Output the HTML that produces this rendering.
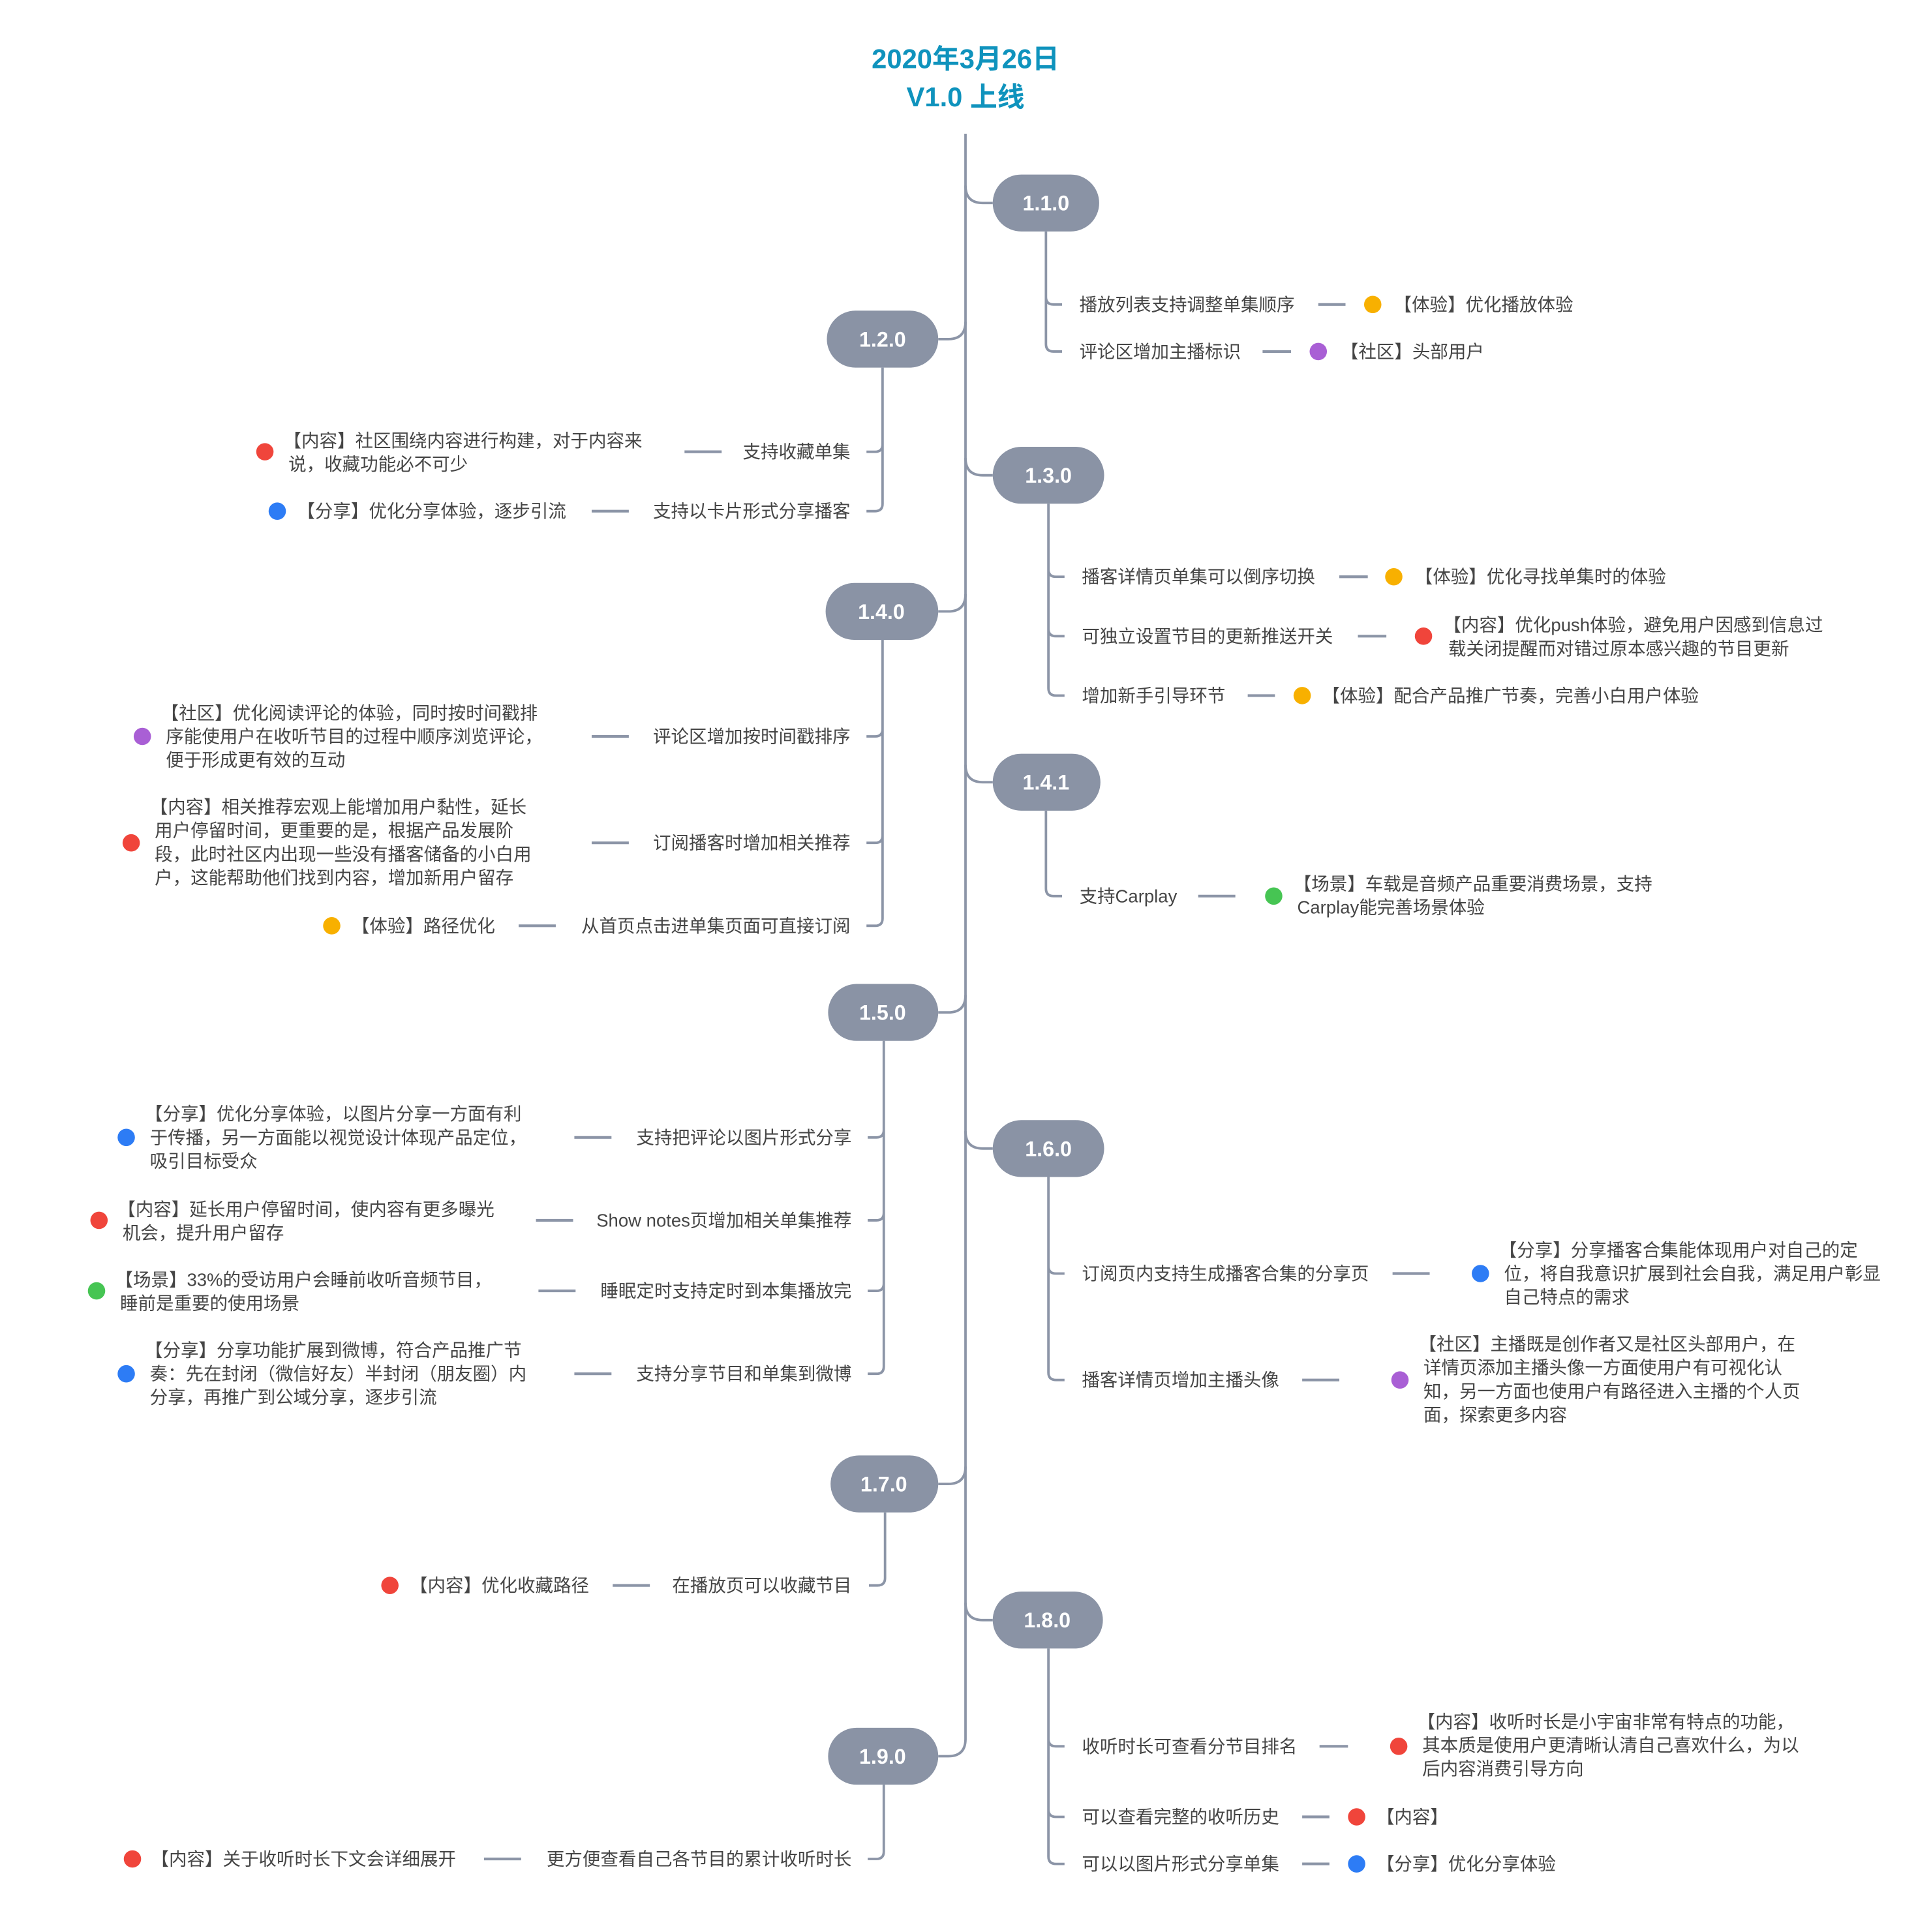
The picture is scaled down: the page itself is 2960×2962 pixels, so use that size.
<!DOCTYPE html>
<html><head><meta charset="utf-8"><style>
html,body{margin:0;padding:0;background:#fff;}
svg{display:block;}
.t{font-family:"Liberation Sans","Noto Sans CJK SC",sans-serif;font-size:14.5px;fill:#454545;}
.n{font-family:"Liberation Sans","Noto Sans CJK SC",sans-serif;font-size:17px;font-weight:bold;fill:#fff;}
.l{fill:none;stroke:#8c95a7;stroke-width:2;}
.d{stroke:#8c95a7;stroke-width:2.2;}
</style></head><body>
<svg width="2960" height="2962" viewBox="0 0 1560 1561" xmlns="http://www.w3.org/2000/svg">
<text x="780" y="55" text-anchor="middle" style="font-family:'Liberation Sans','Noto Sans CJK SC',sans-serif;font-size:22px;font-weight:bold;fill:#0f93bd">2020年3月26日</text>
<text x="780" y="86" text-anchor="middle" style="font-family:'Liberation Sans','Noto Sans CJK SC',sans-serif;font-size:22px;font-weight:bold;fill:#0f93bd">V1.0 上线</text>

<!-- trunk -->
<path class="l" d="M780 108 V1405 Q780 1419 766 1419 H758"/>
<!-- trunk to right nodes -->
<path class="l" d="M780 150 Q780 164 794 164 H802"/>
<path class="l" d="M780 370 Q780 384 794 384 H802"/>
<path class="l" d="M780 618 Q780 632 794 632 H802"/>
<path class="l" d="M780 914 Q780 928 794 928 H802"/>
<path class="l" d="M780 1295 Q780 1309 794 1309 H802"/>
<!-- trunk to left nodes -->
<path class="l" d="M780 260 Q780 274 766 274 H758"/>
<path class="l" d="M780 480 Q780 494 766 494 H758"/>
<path class="l" d="M780 804 Q780 818 766 818 H758"/>
<path class="l" d="M780 1185 Q780 1199 766 1199 H758"/>

<!-- right children connectors -->
<path class="l" d="M845 187 V240 Q845 246 851 246 H858 M845 187 V278 Q845 284 851 284 H858"/>
<path class="l" d="M847 407 V460 Q847 466 853 466 H860 M847 407 V508 Q847 514 853 514 H860 M847 407 V556 Q847 562 853 562 H860"/>
<path class="l" d="M845 655 V718 Q845 724 851 724 H858"/>
<path class="l" d="M847 951 V1023 Q847 1029 853 1029 H860 M847 951 V1109 Q847 1115 853 1115 H860"/>
<path class="l" d="M847 1332 V1405 Q847 1411 853 1411 H860 M847 1332 V1462 Q847 1468 853 1468 H860 M847 1332 V1500 Q847 1506 853 1506 H860"/>
<!-- left children connectors -->
<path class="l" d="M713 297 V359 Q713 365 707 365 H700 M713 297 V407 Q713 413 707 413 H700"/>
<path class="l" d="M713 517 V589 Q713 595 707 595 H700 M713 517 V675 Q713 681 707 681 H700 M713 517 V742 Q713 748 707 748 H700"/>
<path class="l" d="M714 841 V913 Q714 919 708 919 H701 M714 841 V980 Q714 986 708 986 H701 M714 841 V1037 Q714 1043 708 1043 H701 M714 841 V1104 Q714 1110 708 1110 H701"/>
<path class="l" d="M715 1222 V1275 Q715 1281 709 1281 H702"/>
<path class="l" d="M714 1442 V1496 Q714 1502 708 1502 H701"/>

<!-- nodes -->
<g fill="#8a93a5">
<rect x="802" y="141" width="86" height="46" rx="23"/>
<rect x="802" y="361" width="90" height="46" rx="23"/>
<rect x="802" y="609" width="87" height="46" rx="23"/>
<rect x="802" y="905" width="90" height="46" rx="23"/>
<rect x="802" y="1286" width="89" height="46" rx="23"/>
<rect x="668" y="251" width="90" height="46" rx="23"/>
<rect x="667" y="471" width="91" height="46" rx="23"/>
<rect x="669" y="795" width="89" height="46" rx="23"/>
<rect x="671" y="1176" width="87" height="46" rx="23"/>
<rect x="669" y="1396" width="89" height="46" rx="23"/>
</g>
<g class="n" text-anchor="middle">
<text x="845" y="170">1.1.0</text>
<text x="847" y="390">1.3.0</text>
<text x="845" y="638">1.4.1</text>
<text x="847" y="934">1.6.0</text>
<text x="846" y="1315">1.8.0</text>
<text x="713" y="280">1.2.0</text>
<text x="712" y="500">1.4.0</text>
<text x="713" y="824">1.5.0</text>
<text x="714" y="1205">1.7.0</text>
<text x="713" y="1425">1.9.0</text>
</g>

<!-- dashes -->
<g class="d">
<line x1="1065" y1="246" x2="1087" y2="246"/>
<line x1="1020" y1="284" x2="1043" y2="284"/>
<line x1="1082" y1="466" x2="1105" y2="466"/>
<line x1="1097" y1="514" x2="1120" y2="514"/>
<line x1="1008" y1="562" x2="1030" y2="562"/>
<line x1="968" y1="724" x2="998" y2="724"/>
<line x1="1125" y1="1029" x2="1155" y2="1029"/>
<line x1="1052" y1="1115" x2="1082" y2="1115"/>
<line x1="1066" y1="1411" x2="1089" y2="1411"/>
<line x1="1052" y1="1468" x2="1074" y2="1468"/>
<line x1="1052" y1="1506" x2="1074" y2="1506"/>
<line x1="553" y1="365" x2="583" y2="365"/>
<line x1="478" y1="413" x2="508" y2="413"/>
<line x1="478" y1="595" x2="508" y2="595"/>
<line x1="478" y1="681" x2="508" y2="681"/>
<line x1="419" y1="748" x2="449" y2="748"/>
<line x1="464" y1="919" x2="494" y2="919"/>
<line x1="433" y1="986" x2="463" y2="986"/>
<line x1="435" y1="1043" x2="465" y2="1043"/>
<line x1="464" y1="1110" x2="494" y2="1110"/>
<line x1="495" y1="1281" x2="525" y2="1281"/>
<line x1="391" y1="1502" x2="421" y2="1502"/>
</g>

<!-- dots -->
<g>
<circle cx="1109" cy="246" r="7" fill="#f8b000"/>
<circle cx="1065" cy="284" r="7" fill="#a95fd5"/>
<circle cx="1126" cy="466" r="7" fill="#f8b000"/>
<circle cx="1150" cy="514" r="7" fill="#f0453b"/>
<circle cx="1052" cy="562" r="7" fill="#f8b000"/>
<circle cx="1029" cy="724" r="7" fill="#46c553"/>
<circle cx="1196" cy="1029" r="7" fill="#2d7cf5"/>
<circle cx="1131" cy="1115" r="7" fill="#a95fd5"/>
<circle cx="1130" cy="1411" r="7" fill="#f0453b"/>
<circle cx="1096" cy="1468" r="7" fill="#f0453b"/>
<circle cx="1096" cy="1506" r="7" fill="#2d7cf5"/>
<circle cx="214" cy="365" r="7" fill="#f0453b"/>
<circle cx="224" cy="413" r="7" fill="#2d7cf5"/>
<circle cx="115" cy="595" r="7" fill="#a95fd5"/>
<circle cx="106" cy="681" r="7" fill="#f0453b"/>
<circle cx="268" cy="748" r="7" fill="#f8b000"/>
<circle cx="102" cy="919" r="7" fill="#2d7cf5"/>
<circle cx="80" cy="986" r="7" fill="#f0453b"/>
<circle cx="78" cy="1043" r="7" fill="#46c553"/>
<circle cx="102" cy="1110" r="7" fill="#2d7cf5"/>
<circle cx="315" cy="1281" r="7" fill="#f0453b"/>
<circle cx="107" cy="1502" r="7" fill="#f0453b"/>
</g>

<!-- right texts -->
<g class="t">
<text x="872" y="251">播放列表支持调整单集顺序</text>
<text x="1126" y="251">【体验】优化播放体验</text>
<text x="872" y="289">评论区增加主播标识</text>
<text x="1083" y="289">【社区】头部用户</text>
<text x="874" y="471">播客详情页单集可以倒序切换</text>
<text x="1143" y="471">【体验】优化寻找单集时的体验</text>
<text x="874" y="519">可独立设置节目的更新推送开关</text>
<text x="1166" y="510">【内容】优化push体验，避免用户因感到信息过</text>
<text x="1170" y="529">载关闭提醒而对错过原本感兴趣的节目更新</text>
<text x="874" y="567">增加新手引导环节</text>
<text x="1068" y="567">【体验】配合产品推广节奏，完善小白用户体验</text>
<text x="872" y="729">支持Carplay</text>
<text x="1045" y="719">【场景】车载是音频产品重要消费场景，支持</text>
<text x="1048" y="738">Carplay能完善场景体验</text>
<text x="874" y="1034">订阅页内支持生成播客合集的分享页</text>
<text x="1211" y="1015">【分享】分享播客合集能体现用户对自己的定</text>
<text x="1215" y="1034">位，将自我意识扩展到社会自我，满足用户彰显</text>
<text x="1215" y="1053">自己特点的需求</text>
<text x="874" y="1120">播客详情页增加主播头像</text>
<text x="1146" y="1091">【社区】主播既是创作者又是社区头部用户，在</text>
<text x="1150" y="1110">详情页添加主播头像一方面使用户有可视化认</text>
<text x="1150" y="1129">知，另一方面也使用户有路径进入主播的个人页</text>
<text x="1150" y="1148">面，探索更多内容</text>
<text x="874" y="1416">收听时长可查看分节目排名</text>
<text x="1145" y="1396">【内容】收听时长是小宇宙非常有特点的功能，</text>
<text x="1149" y="1415">其本质是使用户更清晰认清自己喜欢什么，为以</text>
<text x="1149" y="1434">后内容消费引导方向</text>
<text x="874" y="1473">可以查看完整的收听历史</text>
<text x="1112" y="1473">【内容】</text>
<text x="874" y="1511">可以以图片形式分享单集</text>
<text x="1112" y="1511">【分享】优化分享体验</text>
</g>

<!-- left texts -->
<g class="t">
<text x="687" y="370" text-anchor="end">支持收藏单集</text>
<text x="229" y="361">【内容】社区围绕内容进行构建，对于内容来</text>
<text x="233" y="380">说，收藏功能必不可少</text>
<text x="687" y="418" text-anchor="end">支持以卡片形式分享播客</text>
<text x="240" y="418">【分享】优化分享体验，逐步引流</text>
<text x="687" y="600" text-anchor="end">评论区增加按时间戳排序</text>
<text x="130" y="581">【社区】优化阅读评论的体验，同时按时间戳排</text>
<text x="134" y="600">序能使用户在收听节目的过程中顺序浏览评论，</text>
<text x="134" y="619">便于形成更有效的互动</text>
<text x="687" y="686" text-anchor="end">订阅播客时增加相关推荐</text>
<text x="121" y="657">【内容】相关推荐宏观上能增加用户黏性，延长</text>
<text x="125" y="676">用户停留时间，更重要的是，根据产品发展阶</text>
<text x="125" y="695">段，此时社区内出现一些没有播客储备的小白用</text>
<text x="125" y="714">户，这能帮助他们找到内容，增加新用户留存</text>
<text x="687" y="753" text-anchor="end">从首页点击进单集页面可直接订阅</text>
<text x="284" y="753">【体验】路径优化</text>
<text x="688" y="924" text-anchor="end">支持把评论以图片形式分享</text>
<text x="117" y="905">【分享】优化分享体验，以图片分享一方面有利</text>
<text x="121" y="924">于传播，另一方面能以视觉设计体现产品定位，</text>
<text x="121" y="943">吸引目标受众</text>
<text x="688" y="991" text-anchor="end">Show notes页增加相关单集推荐</text>
<text x="95" y="982">【内容】延长用户停留时间，使内容有更多曝光</text>
<text x="99" y="1001">机会，提升用户留存</text>
<text x="688" y="1048" text-anchor="end">睡眠定时支持定时到本集播放完</text>
<text x="93" y="1039">【场景】33%的受访用户会睡前收听音频节目，</text>
<text x="97" y="1058">睡前是重要的使用场景</text>
<text x="688" y="1115" text-anchor="end">支持分享节目和单集到微博</text>
<text x="117" y="1096">【分享】分享功能扩展到微博，符合产品推广节</text>
<text x="121" y="1115">奏：先在封闭（微信好友）半封闭（朋友圈）内</text>
<text x="121" y="1134">分享，再推广到公域分享，逐步引流</text>
<text x="688" y="1286" text-anchor="end">在播放页可以收藏节目</text>
<text x="331" y="1286">【内容】优化收藏路径</text>
<text x="688" y="1507" text-anchor="end">更方便查看自己各节目的累计收听时长</text>
<text x="122" y="1507">【内容】关于收听时长下文会详细展开</text>
</g>
</svg>
</body></html>
